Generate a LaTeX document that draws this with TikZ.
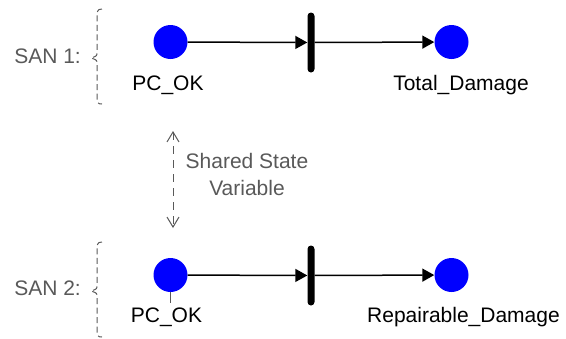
\documentclass[tikz,border=0pt]{standalone}
\usepackage{fontspec}
\setmainfont{Liberation Sans}
\usetikzlibrary{arrows.meta}
\definecolor{txtgray}{HTML}{595959}
\definecolor{placeblue}{HTML}{0000FF}
\begin{document}
\begin{tikzpicture}[x=1pt,y=-1pt,
  place/.style={circle,fill=placeblue,draw=none,minimum size=34pt,inner sep=0pt},
  trans/.style={rectangle,fill=black,draw=none,minimum width=7pt,minimum height=60pt,rounded corners=3.5pt,inner sep=0pt},
  arc/.style={line width=1.5pt,-{Triangle[length=12pt,width=13pt]}},
  lbl/.style={font=\fontsize{21}{26}\selectfont,anchor=base,inner sep=0pt},
  glbl/.style={lbl,text=txtgray},
  brc/.style={draw=txtgray,line width=1pt,dash pattern=on 6pt off 3.5pt},
  shared/.style={draw=txtgray,line width=1pt,dash pattern=on 8pt off 6pt,{Straight Barb[length=10pt,width=12pt]}-{Straight Barb[length=10pt,width=12pt]}}
]
\useasboundingbox (0,0) rectangle (566,338);
% SAN 1
\node[place] (p1) at (170.5,42) {};
\node[trans] (t1) at (311,42.5) {};
\node[place] (d1) at (451.5,42) {};
\draw[arc] (p1) -- (t1);
\draw[arc] (t1) -- (d1);
\node[lbl] (lp1) at (168,90) {PC\_OK};
\node[lbl] (ld1) at (461,90) {Total\_Damage};
\node[glbl,anchor=base east] (san1) at (81,63) {SAN 1:};
\draw[brc] (102,9) .. controls (97,9) and (97,12) .. (97,17) -- (97,52)
  .. controls (97,56) .. (91,58) .. controls (97,60) .. (97,64) -- (97,98)
  .. controls (97,103) and (98,104) .. (102,104);
% shared variable
\coordinate (sv1) at (173,131);
\coordinate (sv2) at (173,228);
\draw[shared] (sv1) -- (sv2);
\node[glbl] (sh1) at (247,168) {Shared State};
\node[glbl] (sh2) at (247,195) {Variable};
% SAN 2
\node[place] (p2) at (170.5,275) {};
\node[trans] (t2) at (311,275.5) {};
\node[place] (d2) at (451.5,275) {};
\draw[arc] (p2) -- (t2);
\draw[arc] (t2) -- (d2);
\coordinate (tick) at (170.5,303);
\draw[txtgray,line width=1pt] (p2.south) -- (tick);
\node[lbl] (lp2) at (166.5,322) {PC\_OK};
\node[lbl] (ld2) at (463.5,322) {Repairable\_Damage};
\node[glbl,anchor=base east] (san2) at (81,295) {SAN 2:};
\draw[brc] (102,242) .. controls (97,242) and (97,245) .. (97,250) -- (97,285)
  .. controls (97,289) .. (91,291) .. controls (97,293) .. (97,297) -- (97,331)
  .. controls (97,336) and (98,337) .. (102,337);
\end{tikzpicture}
\end{document}
